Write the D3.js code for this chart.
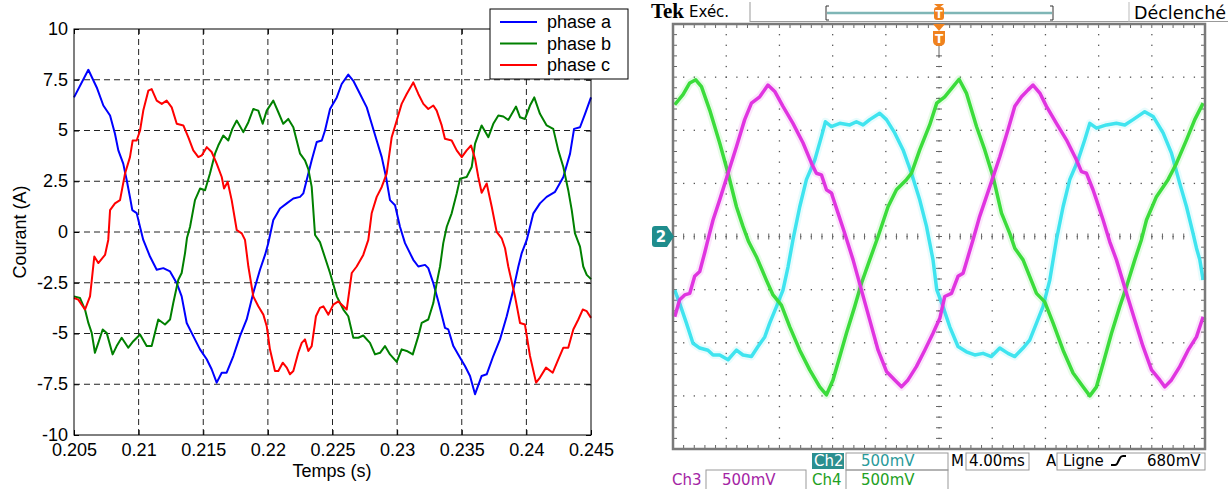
<!DOCTYPE html>
<html><head><meta charset="utf-8">
<script src="https://cdn.jsdelivr.net/npm/d3@7"></script>
<style>body{margin:0;background:#fff;overflow:hidden}svg{display:block}</style>
</head><body>
<svg id="c" width="1228" height="489"></svg>
<script>
// ---------- LEFT CHART DATA (time in s, current in A) ----------
const xTicks = [0.205,0.21,0.215,0.22,0.225,0.23,0.235,0.24,0.245];
const xTickLabels = ["0.205","0.21","0.215","0.22","0.225","0.23","0.235","0.24","0.245"];
const yTicks = [-10,-7.5,-5,-2.5,0,2.5,5,7.5,10];
const yTickLabels = ["-10","-7.5","-5","-2.5","0","2.5","5","7.5","10"];
const seriesNames = ["phase a","phase b","phase c"];

const timeA = [0.20500,0.20611,0.20676,0.20727,0.20779,0.20817,0.20843,0.20881,0.20908,0.20933,0.20951,0.20985,0.21011,0.21036,0.21088,0.21140,0.21191,0.21243,0.21295,0.21333,0.21372,0.21423,0.21475,0.21527,0.21565,0.21604,0.21643,0.21681,0.21733,0.21784,0.21836,0.21887,0.21939,0.21978,0.22003,0.22042,0.22094,0.22146,0.22197,0.22249,0.22274,0.22300,0.22339,0.22378,0.22417,0.22442,0.22481,0.22533,0.22571,0.22622,0.22661,0.22713,0.22765,0.22803,0.22842,0.22881,0.22914,0.22945,0.22984,0.23022,0.23061,0.23125,0.23164,0.23216,0.23241,0.23280,0.23319,0.23370,0.23396,0.23435,0.23487,0.23525,0.23564,0.23603,0.23654,0.23693,0.23744,0.23796,0.23848,0.23899,0.23938,0.23964,0.24003,0.24054,0.24105,0.24157,0.24222,0.24286,0.24338,0.24369,0.24415,0.24454,0.24500];
const phaseA = [6.63,7.99,7.12,6.23,5.74,4.84,4.02,3.37,2.55,1.72,1.08,0.93,0.25,-0.39,-1.21,-1.86,-1.78,-1.94,-2.52,-3.17,-4.48,-5.13,-5.78,-6.27,-6.76,-7.42,-6.93,-6.93,-6.11,-5.13,-4.31,-3.0,-1.86,-1.13,-0.55,0.59,1.16,1.41,1.65,1.73,1.9,2.55,3.53,4.43,4.51,5.0,6.06,6.63,7.29,7.75,7.45,6.8,6.14,5.33,4.51,3.69,2.71,1.57,1.32,0.26,-0.55,-1.37,-1.7,-1.62,-1.78,-2.52,-3.42,-4.72,-4.8,-5.62,-6.19,-6.6,-7.09,-7.99,-7.09,-7.01,-6.11,-5.29,-4.15,-2.84,-1.70,-1.04,-0.39,0.92,1.41,1.73,1.98,2.71,3.86,5.08,5.16,5.82,6.63];

const timeB = [0.20500,0.20546,0.20585,0.20611,0.20637,0.20662,0.20688,0.20722,0.20753,0.20799,0.20830,0.20869,0.20920,0.20959,0.21011,0.21062,0.21101,0.21152,0.21204,0.21243,0.21268,0.21307,0.21333,0.21359,0.21374,0.21398,0.21436,0.21475,0.21514,0.21552,0.21591,0.21616,0.21655,0.21694,0.21725,0.21759,0.21810,0.21849,0.21887,0.21926,0.21960,0.21991,0.22042,0.22081,0.22119,0.22158,0.22197,0.22249,0.22287,0.22313,0.22339,0.22365,0.22403,0.22481,0.22533,0.22584,0.22622,0.22661,0.22700,0.22738,0.22790,0.22829,0.22868,0.22906,0.22945,0.22997,0.23035,0.23074,0.23121,0.23164,0.23190,0.23241,0.23280,0.23306,0.23332,0.23357,0.23384,0.23422,0.23461,0.23487,0.23538,0.23577,0.23603,0.23654,0.23706,0.23744,0.23783,0.23822,0.23860,0.23920,0.23951,0.23989,0.24028,0.24061,0.24105,0.24157,0.24208,0.24247,0.24286,0.24324,0.24351,0.24376,0.24415,0.24440,0.24467,0.24500];
const phaseB = [-3.17,-3.25,-3.82,-4.48,-4.97,-5.95,-5.46,-4.8,-4.97,-6.03,-5.62,-5.21,-5.70,-5.38,-5.05,-5.62,-5.62,-4.31,-4.56,-4.31,-3.5,-2.35,-2.02,-1.04,-0.3,0.26,1.57,2.14,2.06,2.88,3.86,4.26,4.75,4.51,5.08,5.49,4.92,5.41,6.06,5.98,5.33,5.98,6.47,5.9,5.33,5.57,5.16,3.86,3.53,3.1,2.22,-0.15,-0.5,-2.02,-3.17,-3.82,-4.15,-5.21,-5.21,-5.1,-5.46,-6.03,-5.95,-5.62,-6.03,-6.4,-5.78,-5.86,-6.03,-5.13,-4.48,-4.31,-3.5,-2.52,-1.7,-0.55,0.26,0.92,1.9,2.63,2.71,3.2,4.35,5.25,4.67,5.33,5.74,5.69,5.52,6.18,5.65,5.57,6.23,6.63,5.82,5.25,5.08,4.02,3.2,2.06,1.08,-0.07,-0.72,-1.7,-2.11,-2.32];

const timeC = [0.20500,0.20533,0.20585,0.20624,0.20657,0.20688,0.20740,0.20765,0.20779,0.20817,0.20856,0.20895,0.20933,0.20954,0.20985,0.21011,0.21036,0.21075,0.21101,0.21140,0.21179,0.21217,0.21256,0.21295,0.21346,0.21384,0.21423,0.21462,0.21488,0.21527,0.21565,0.21604,0.21643,0.21661,0.21689,0.21720,0.21759,0.21798,0.21823,0.21849,0.21887,0.21926,0.21965,0.21991,0.22016,0.22055,0.22081,0.22115,0.22146,0.22171,0.22197,0.22235,0.22262,0.22287,0.22313,0.22339,0.22372,0.22403,0.22429,0.22468,0.22506,0.22545,0.22610,0.22649,0.22687,0.22738,0.22777,0.22803,0.22842,0.22881,0.22919,0.22958,0.22997,0.23035,0.23074,0.23125,0.23164,0.23203,0.23241,0.23280,0.23306,0.23345,0.23370,0.23422,0.23461,0.23500,0.23538,0.23572,0.23603,0.23628,0.23654,0.23693,0.23732,0.23770,0.23809,0.23835,0.23860,0.23912,0.23951,0.23989,0.24028,0.24075,0.24105,0.24152,0.24204,0.24247,0.24286,0.24324,0.24363,0.24402,0.24436,0.24467,0.24500];
const phaseC = [-3.25,-3.33,-3.82,-3.17,-1.21,-1.53,-1.13,-0.39,1.08,1.41,1.57,2.88,3.69,4.51,4.51,5.0,5.98,6.96,7.04,6.47,6.31,6.47,6.14,5.33,5.25,4.67,4.02,3.69,3.77,4.18,3.94,3.37,2.71,2.14,2.47,1.57,0.1,-0.07,-0.39,-1.7,-3.17,-3.66,-4.07,-4.64,-5.78,-6.85,-6.85,-6.44,-6.68,-7.01,-6.85,-5.95,-5.46,-5.29,-5.86,-5.62,-4.15,-3.74,-3.66,-4.07,-3.58,-3.42,-3.82,-2.02,-1.70,-1.13,-0.39,0.92,1.73,2.22,2.88,4.67,5.49,6.31,6.8,7.37,6.8,6.31,6.06,6.23,5.98,5.25,4.59,4.51,4.02,3.69,4.02,4.26,3.61,2.71,1.93,2.39,1.24,0.01,-0.31,-0.8,-1.7,-3.17,-4.48,-4.56,-6.11,-7.42,-7.17,-6.68,-6.93,-6.27,-5.70,-5.70,-4.8,-4.31,-3.82,-3.9,-4.23];

// ---------- OSCILLOSCOPE DATA (time in ms, voltage in V) ----------
const ch4Time = [0.13,0.75,1.26,1.71,2.14,2.76,3.51,4.14,4.77,5.26,5.69,6.27,7.02,7.52,8.15,8.78,9.53,10.28,11.03,11.54,12.03,12.54,13.04,13.66,14.17,14.79,15.42,16.17,16.80,17.55,17.93,18.55,19.30,19.83,20.43,21.06,21.51,22.06,22.82,23.44,24.06,24.70,25.32,25.70,26.32,27.33,27.95,28.58,29.33,30.08,30.83,31.34,31.84,32.34,32.97,33.59,34.10,34.72,35.22,35.60,36.35,37.22,37.86,38.61,39.23,39.86];
const ch4Volt = [1.24,1.335,1.445,1.475,1.41,1.19,0.88,0.595,0.28,0.095,-0.05,-0.19,-0.41,-0.55,-0.645,-0.85,-1.07,-1.255,-1.415,-1.49,-1.35,-1.13,-0.91,-0.66,-0.44,-0.22,0.0,0.28,0.44,0.535,0.595,0.815,1.05,1.255,1.315,1.41,1.48,1.35,1.035,0.815,0.565,0.22,0.03,-0.11,-0.22,-0.535,-0.615,-0.815,-1.07,-1.285,-1.415,-1.5,-1.415,-1.195,-0.91,-0.66,-0.47,-0.22,-0.03,0.155,0.375,0.535,0.69,0.91,1.10,1.255];

const ch3Time = [0.13,0.50,0.88,1.26,1.63,2.01,2.38,2.63,3.01,3.51,4.14,4.77,5.39,5.90,6.52,7.14,7.65,8.27,9.02,9.78,10.41,10.78,11.16,11.54,11.91,12.41,12.91,13.54,14.17,14.79,15.42,16.05,16.67,17.18,17.67,18.30,18.93,19.55,20.06,20.43,20.94,21.43,21.81,22.18,22.56,23.06,23.82,24.57,25.19,25.70,26.20,26.70,27.07,27.58,28.08,28.83,29.58,30.34,30.71,31.09,31.58,31.84,32.34,32.84,33.34,34.10,34.72,35.34,35.98,36.60,36.98,37.48,38.10,38.73,39.36,39.86];
const ch3Volt = [-0.755,-0.595,-0.55,-0.535,-0.375,-0.33,-0.155,-0.03,0.155,0.345,0.595,0.845,1.10,1.255,1.315,1.425,1.365,1.225,1.065,0.88,0.69,0.595,0.58,0.44,0.41,0.22,0.03,-0.22,-0.505,-0.785,-1.07,-1.27,-1.35,-1.415,-1.35,-1.225,-1.07,-0.91,-0.77,-0.565,-0.535,-0.375,-0.345,-0.19,-0.03,0.19,0.47,0.75,1.005,1.225,1.315,1.38,1.425,1.35,1.225,1.065,0.91,0.72,0.61,0.595,0.44,0.345,0.155,-0.05,-0.22,-0.535,-0.785,-1.035,-1.255,-1.35,-1.415,-1.35,-1.225,-1.07,-0.945,-0.755];

const ch2Time = [0.13,0.50,1.01,1.50,2.01,2.63,3.01,3.51,4.14,4.77,5.26,5.90,6.39,6.90,7.27,7.78,8.27,8.65,9.02,9.53,10.03,10.66,11.16,11.46,11.91,12.54,13.29,13.79,14.29,14.79,15.54,16.05,16.67,17.30,17.93,18.55,19.06,19.55,19.83,20.30,20.81,21.43,22.06,22.69,23.31,23.94,24.57,25.19,25.70,26.32,26.82,27.33,27.82,28.33,28.83,29.33,29.83,30.46,30.96,31.34,31.84,32.59,33.34,33.97,34.59,35.47,36.10,36.85,37.48,38.10,38.61,39.10,39.36,39.61,39.86];
const ch2Volt = [-0.505,-0.63,-0.815,-1.005,-1.05,-1.07,-1.115,-1.115,-1.16,-1.07,-1.115,-1.13,-1.035,-0.945,-0.815,-0.66,-0.505,-0.285,-0.03,0.28,0.535,0.72,0.94,1.08,1.035,1.065,1.05,1.08,1.05,1.10,1.16,1.10,0.975,0.815,0.595,0.345,0.095,-0.22,-0.5,-0.66,-0.85,-1.035,-1.085,-1.115,-1.10,-1.13,-1.05,-1.10,-1.13,-1.05,-0.975,-0.815,-0.66,-0.41,-0.03,0.28,0.535,0.72,0.91,1.065,1.02,1.05,1.065,1.05,1.10,1.175,1.13,0.975,0.785,0.50,0.28,0.03,-0.11,-0.22,-0.41];

const scopeTexts = {ch2:"Ch2", ch3:"Ch3", ch4:"Ch4", volts:"500mV", time:"4.00ms", trig:"680mV"};

// ---------- DRAW ----------
const svg = d3.select("#c");
const LF = "'Liberation Sans', Arial, sans-serif";
const SF = "'DejaVu Sans', sans-serif";

// Left chart
const x = d3.scaleLinear().domain([0.205,0.245]).range([74,591]);
const y = d3.scaleLinear().domain([-10,10]).range([435,29]);
const L = svg.append("g");

// grid
L.append("g").selectAll("line").data(xTicks.slice(1,-1)).join("line")
  .attr("x1",d=>x(d)).attr("x2",d=>x(d)).attr("y1",y(10)).attr("y2",y(-10))
  .attr("stroke","#222").attr("stroke-dasharray","6,4").attr("stroke-width",1);
L.append("g").selectAll("line").data(yTicks.slice(1,-1)).join("line")
  .attr("y1",d=>y(d)).attr("y2",d=>y(d)).attr("x1",x(0.205)).attr("x2",x(0.245))
  .attr("stroke","#222").attr("stroke-dasharray","6,4").attr("stroke-width",1);

// axes
const ax = L.append("g").attr("transform",`translate(0,${y(-10)})`)
  .call(d3.axisBottom(x).tickValues(xTicks).tickFormat((d,i)=>xTickLabels[i]).tickSizeInner(-5).tickSizeOuter(0).tickPadding(8.5));
const ay = L.append("g").attr("transform",`translate(${x(0.205)},0)`)
  .call(d3.axisLeft(y).tickValues(yTicks).tickFormat((d,i)=>yTickLabels[i]).tickSizeInner(-5).tickSizeOuter(0).tickPadding(6));
const at = L.append("g").attr("transform",`translate(0,${y(10)})`)
  .call(d3.axisTop(x).tickValues(xTicks).tickFormat("").tickSizeInner(-5).tickSizeOuter(0));
const ar = L.append("g").attr("transform",`translate(${x(0.245)},0)`)
  .call(d3.axisRight(y).tickValues(yTicks).tickFormat("").tickSizeInner(-5).tickSizeOuter(0));
[ax,ay,at,ar].forEach(g=>{g.select(".domain").remove();g.selectAll("line").attr("stroke","#000");
  g.selectAll("text").attr("font-family",LF).attr("font-size",18).attr("fill","#000");});
ay.selectAll("text").attr("dy","0.3em");

// lines
const series = [
  {t:timeA,v:phaseA,c:"#0000ff"},
  {t:timeB,v:phaseB,c:"#008000"},
  {t:timeC,v:phaseC,c:"#ff0000"}];
const line = d3.line().x(d=>x(d[0])).y(d=>y(d[1]));
series.forEach(s=>{
  L.append("path").datum(d3.zip(s.t,s.v)).attr("d",line).attr("fill","none")
   .attr("stroke",s.c).attr("stroke-width",2).attr("stroke-linejoin","round");
});

// frame
L.append("rect").attr("x",x(0.205)).attr("y",y(10)).attr("width",x(0.245)-x(0.205)).attr("height",y(-10)-y(10))
  .attr("fill","none").attr("stroke","#000").attr("stroke-width",1);

// labels
L.append("text").attr("x",332).attr("y",477).attr("text-anchor","middle")
  .attr("font-family",LF).attr("font-size",18).text("Temps (s)");
L.append("text").attr("transform","translate(26,232) rotate(-90)").attr("text-anchor","middle")
  .attr("font-family",LF).attr("font-size",18).text("Courant (A)");

// legend
const lg = L.append("g");
lg.append("rect").attr("x",490).attr("y",9).attr("width",138).attr("height",70).attr("fill","#fff").attr("stroke","#000");
seriesNames.forEach((n,i)=>{
  const yy = 22 + i*21.5;
  lg.append("line").attr("x1",500).attr("x2",537).attr("y1",yy).attr("y2",yy).attr("stroke",series[i].c).attr("stroke-width",2);
  lg.append("text").attr("x",547).attr("y",yy+6).attr("font-family",LF).attr("font-size",18).text(n);
});

// ---------- Oscilloscope ----------
const sx = d3.scaleLinear().domain([0,40]).range([673,1205]);
const sy = d3.scaleLinear().domain([-2,2]).range([449,24]);
const S = svg.append("g");

// dotted grid
const dots = [];
for(let i=1;i<10;i++){ for(let k=0;k<=40;k++){ dots.push([sx(i*4), sy(-2+k*0.1)]); } }
for(let j=1;j<8;j++){ for(let k=0;k<=50;k++){ dots.push([sx(k*0.8), sy(-2+j*0.5)]); } }
S.append("g").selectAll("rect").data(dots).join("rect")
  .attr("x",d=>d[0]-0.6).attr("y",d=>d[1]-0.6).attr("width",1.3).attr("height",1.3).attr("fill","#555");
// center ticks and border ticks
const tk = S.append("g").attr("stroke","#666").attr("stroke-width",1);
for(let k=0;k<=50;k++){
  const xx = sx(k*0.8);
  tk.append("line").attr("x1",xx).attr("x2",xx).attr("y1",sy(0)-3).attr("y2",sy(0)+3);
  tk.append("line").attr("x1",xx).attr("x2",xx).attr("y1",sy(2)).attr("y2",sy(2)+4);
  tk.append("line").attr("x1",xx).attr("x2",xx).attr("y1",sy(-2)-4).attr("y2",sy(-2));
}
for(let k=0;k<=40;k++){
  const yy = sy(-2+k*0.1);
  tk.append("line").attr("x1",sx(20)-3).attr("x2",sx(20)+3).attr("y1",yy).attr("y2",yy);
  tk.append("line").attr("x1",sx(0)).attr("x2",sx(0)+4).attr("y1",yy).attr("y2",yy);
  tk.append("line").attr("x1",sx(40)-4).attr("x2",sx(40)).attr("y1",yy).attr("y2",yy);
}

// traces
const sline = d3.line().x(d=>sx(d[0])).y(d=>sy(d[1]));
const traces = [
  {t:ch2Time,v:ch2Volt,c:"#3fe4ef"},
  {t:ch4Time,v:ch4Volt,c:"#3bdc3b"},
  {t:ch3Time,v:ch3Volt,c:"#e034e0"}];
traces.forEach(s=>{
  const d = d3.zip(s.t,s.v);
  S.append("path").datum(d).attr("d",sline).attr("fill","none").attr("stroke",s.c)
    .attr("stroke-width",8).attr("stroke-opacity",0.12).attr("stroke-linejoin","round");
  S.append("path").datum(d).attr("d",sline).attr("fill","none").attr("stroke",s.c)
    .attr("stroke-width",3.5).attr("stroke-linejoin","round");
});

// frame
S.append("rect").attr("x",sx(0)).attr("y",sy(2)).attr("width",sx(40)-sx(0)).attr("height",sy(-2)-sy(2))
  .attr("fill","none").attr("stroke","#7a7a7a").attr("stroke-width",2.5);

// header
S.append("text").attr("x",651).attr("y",18).attr("font-family","'Liberation Serif', serif").attr("font-weight","bold")
  .attr("font-size",21).attr("textLength",33).text("Tek");
S.append("text").attr("x",689).attr("y",17).attr("font-family",SF).attr("font-size",15).text("Exéc.");
S.append("line").attr("x1",750).attr("x2",750).attr("y1",2).attr("y2",22).attr("stroke","#999");
S.append("line").attr("x1",750).attr("x2",1228).attr("y1",21.5).attr("y2",21.5).attr("stroke","#999");
S.append("line").attr("x1",1129).attr("x2",1129).attr("y1",2).attr("y2",22).attr("stroke","#bbb");
S.append("line").attr("x1",827).attr("x2",1052).attr("y1",13).attr("y2",13).attr("stroke","#7fb6b6").attr("stroke-width",2.5);
S.append("path").attr("d","M829,6 L826,6 L826,20 L829,20 M1050,6 L1053,6 L1053,20 L1050,20").attr("fill","none").attr("stroke","#333").attr("stroke-width",1);
S.append("text").attr("x",1134).attr("y",19).attr("font-family",SF).attr("font-size",17.5).text("Déclenché");

// trigger markers
const OR = "#f0821e";
S.append("path").attr("d","M934,4 L944,4 L939,8 Z").attr("fill",OR);
S.append("rect").attr("x",934).attr("y",7).attr("width",10).attr("height",13).attr("rx",3).attr("fill",OR);
S.append("text").attr("x",939).attr("y",18).attr("text-anchor","middle").attr("font-family",SF).attr("font-weight","bold").attr("font-size",11).attr("fill","#fff").text("T");
S.append("path").attr("d","M933,24 L945,24 L939,31 Z").attr("fill",OR);
S.append("path").attr("d","M933,31 L945,31 L945,41 Q945,46 939,46 Q933,46 933,41 Z").attr("fill",OR);
S.append("text").attr("x",939).attr("y",43).attr("text-anchor","middle").attr("font-family",SF).attr("font-weight","bold").attr("font-size",12).attr("fill","#fff").text("T");
S.append("line").attr("x1",939).attr("x2",939).attr("y1",46).attr("y2",58).attr("stroke","#666");

// channel 2 ground marker
S.append("path").attr("d","M655,226 L667,226 L674,236.5 L667,247 L655,247 Q652,247 652,244 L652,229 Q652,226 655,226 Z").attr("fill","#1f8d8d");
S.append("text").attr("x",661).attr("y",242).attr("text-anchor","middle").attr("font-family",SF).attr("font-weight","bold").attr("font-size",15).attr("fill","#fff").text("2");

// bottom readouts
const TEAL="#2a9a9a", MAG="#a424a4", GRN="#23a023";
const box = (x0,y0,w,h)=>S.append("rect").attr("x",x0).attr("y",y0).attr("width",w).attr("height",h).attr("fill","none").attr("stroke","#999");
const txt = (x0,y0,t,c)=>S.append("text").attr("x",x0).attr("y",y0).attr("font-family",SF).attr("font-size",15).attr("fill",c).text(t);
S.append("rect").attr("x",812).attr("y",453).attr("width",32).attr("height",16).attr("fill","#2b8f8f");
txt(814,466,scopeTexts.ch2,"#fff");
box(846,453,102,17); txt(861,466,scopeTexts.volts,TEAL);
txt(951,466,"M","#000");
box(966,453,63,17); txt(969,466,scopeTexts.time,"#000");
txt(1046,466,"A","#000");
box(1057,453,148,17); txt(1063,466,"Ligne","#000");
S.append("path").attr("d","M1111,465 L1115,465 Q1117,465 1118,462 L1120,458 Q1121,456 1123,456 L1126,456").attr("fill","none").attr("stroke","#000").attr("stroke-width",2);
txt(1147,466,scopeTexts.trig,"#000");
txt(672,485,scopeTexts.ch3,MAG);
box(706,470,100,20); txt(722,485,scopeTexts.volts,MAG);
txt(812,485,scopeTexts.ch4,GRN);
box(846,470,102,20); txt(861,485,scopeTexts.volts,GRN);
</script>
</body></html>
